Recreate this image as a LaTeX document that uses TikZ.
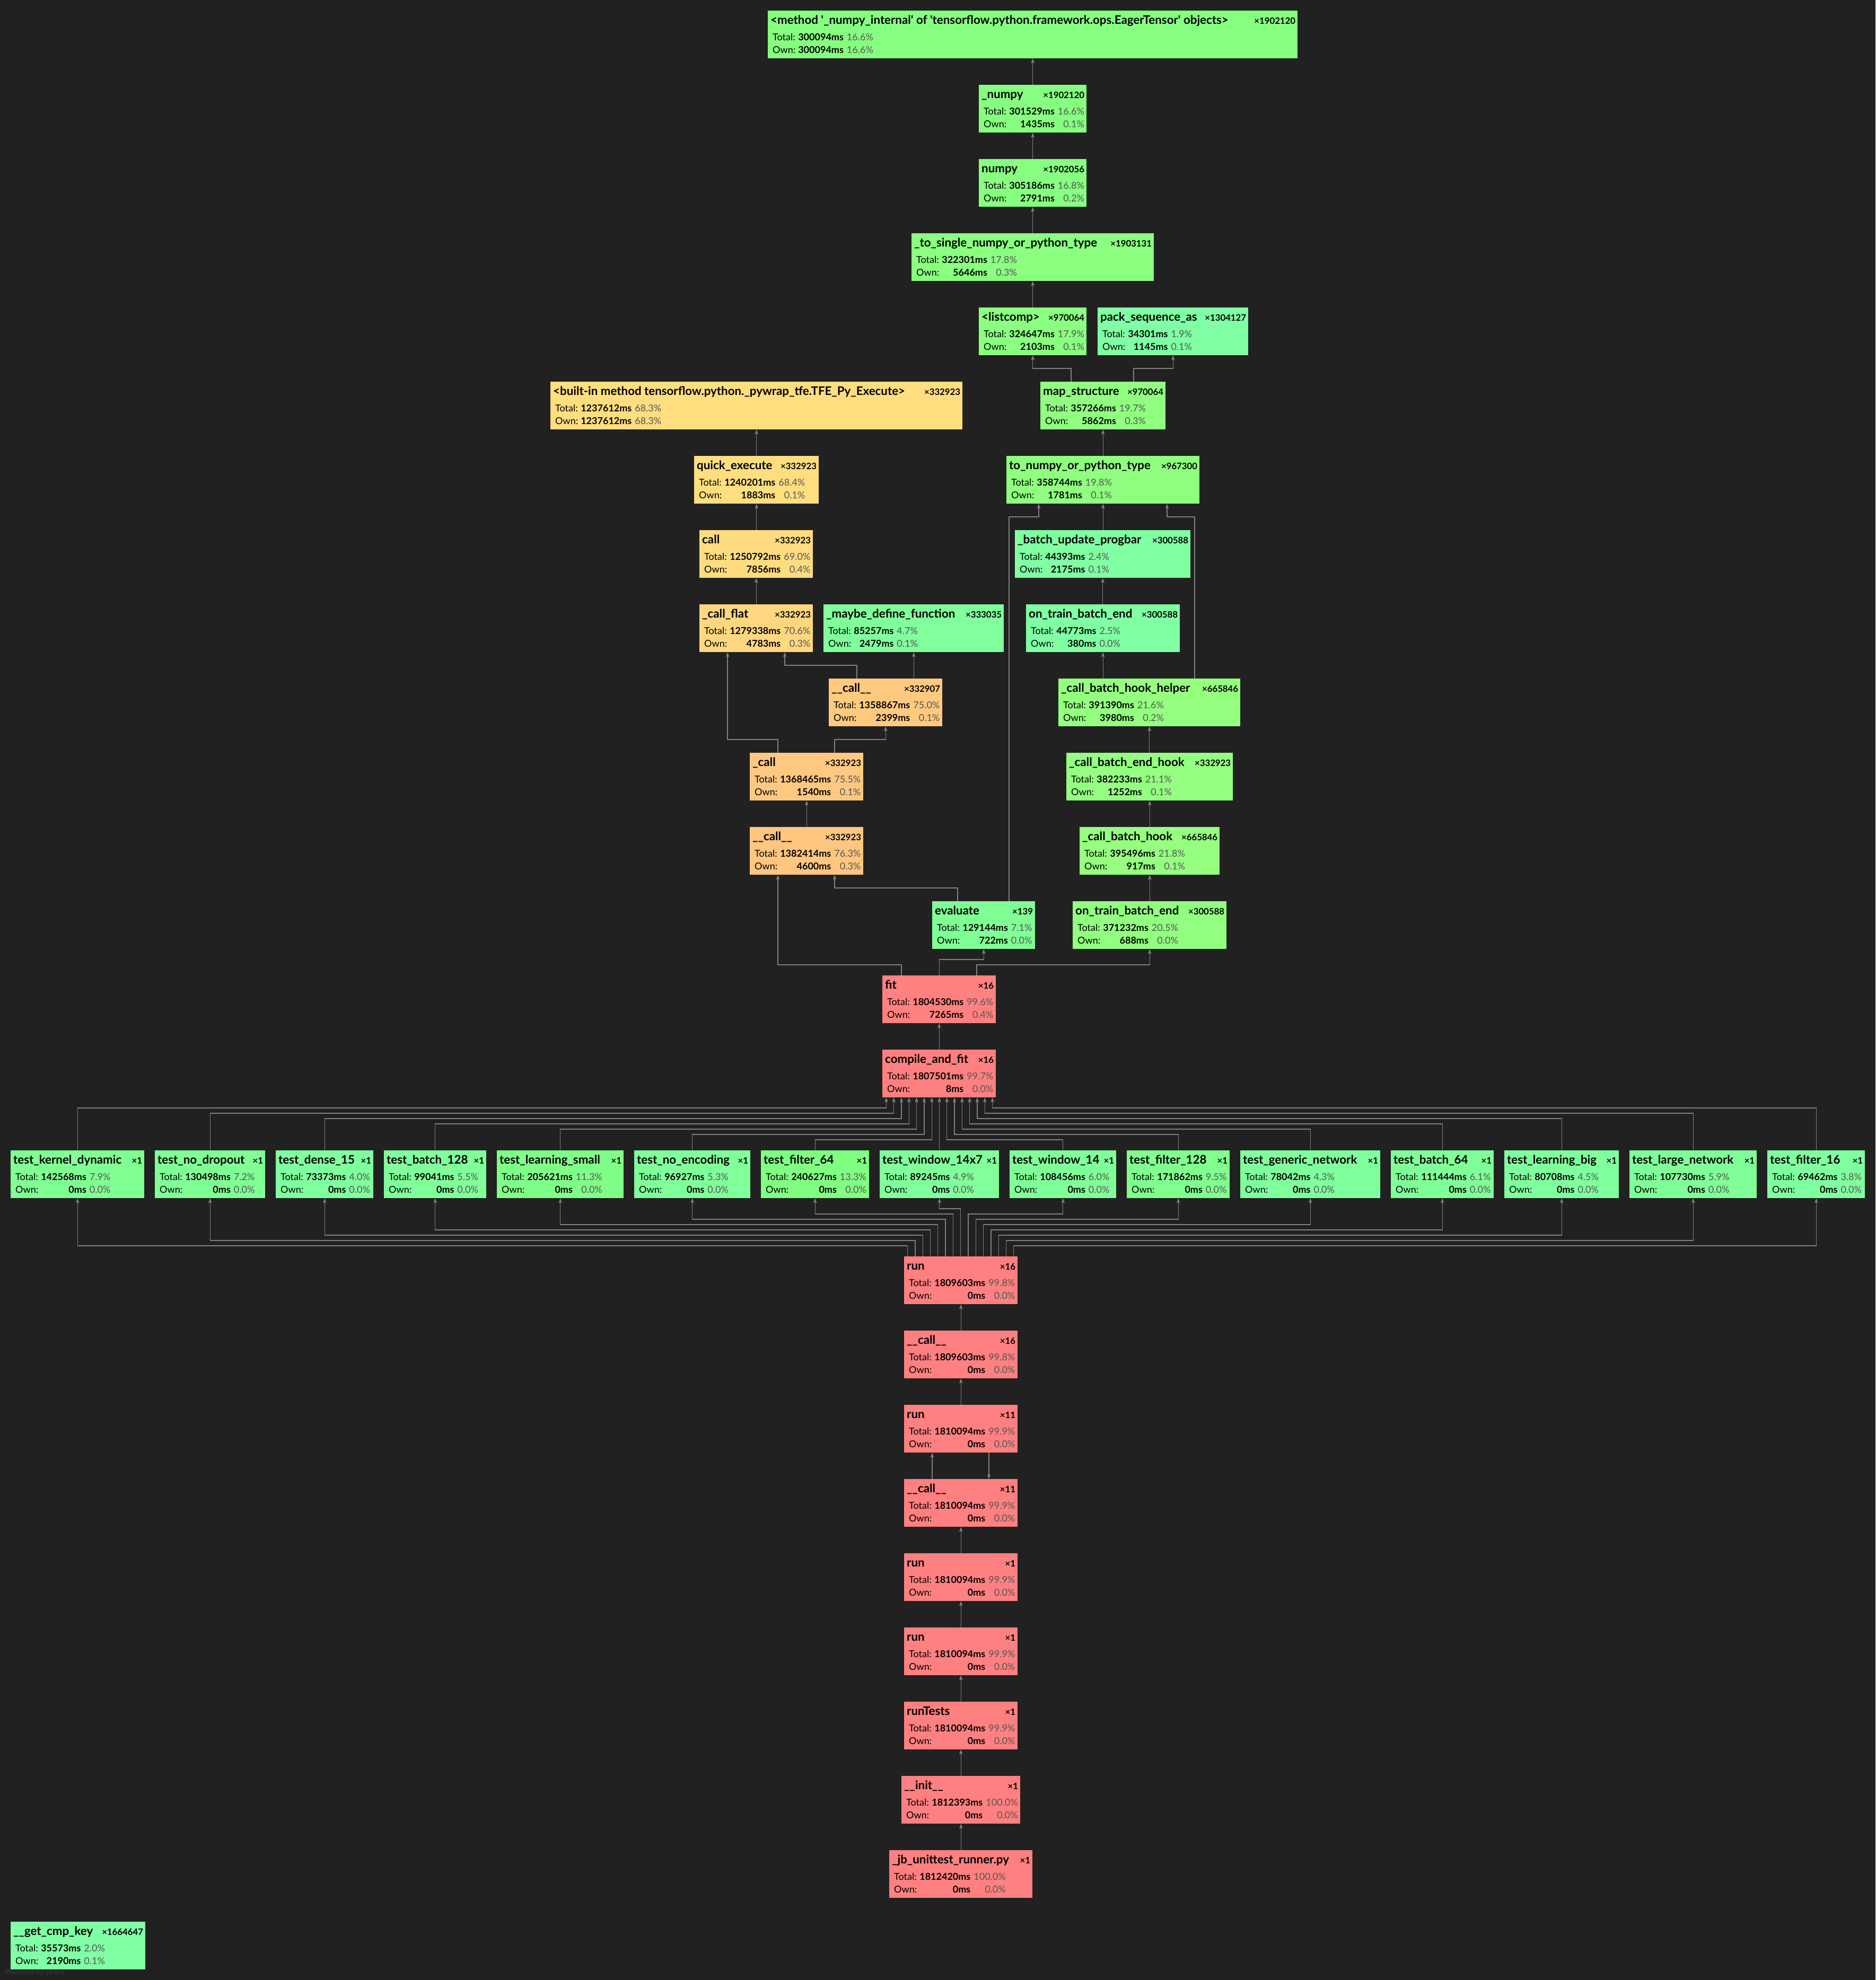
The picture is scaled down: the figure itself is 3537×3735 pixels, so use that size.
\documentclass[tikz,border=0pt]{standalone}
\usepackage{fontspec}
\setmainfont{Lato}
\usepackage{tikz}
\usetikzlibrary{arrows.meta}

\definecolor{bg}{HTML}{212121}
\definecolor{edgegray}{HTML}{808080}
\definecolor{pctgray}{HTML}{555555}
\definecolor{yfgray}{HTML}{3A3A3A}

\newcommand\sq{\textquotesingle}
\newcommand\pct[1]{\textcolor{pctgray}{#1\%}}

% one call box: name, top left, width, title, count, total, total pct, own, own pct
\newcommand\fnode[9]{%
  \node[fnbox={#3}{#7}] (#1) at (#2) {};
  \node[fntitle] (#1t) at ([xshift=5pt,yshift=-25pt]#1.north west) {#4};
  \node[fncount] (#1c) at ([xshift=-4pt,yshift=-25pt]#1.north east) {×#5};
  \node[fnstats] (#1s) at ([xshift=9pt,yshift=-56pt]#1.north west)
    {\begin{tabular}[t]{@{}l@{\hspace{5pt}}r@{\hspace{6pt}}r@{}}Total: & \textbf{#6} & \pct{#7}\\Own: & \textbf{#8} & \pct{#9}\end{tabular}};
}

\begin{document}
\begin{tikzpicture}[x=1pt,y=-1pt,
  heat/.code={%
    \pgfmathsetmacro\fnhue{140-1.4*#1}%
    \pgfmathsetmacro\fnr{0.5+0.5*max(0,min(1,(120-\fnhue)/60))}%
    \pgfmathsetmacro\fng{0.5+0.5*max(0,min(1,\fnhue/60))}%
    \pgfmathsetmacro\fnb{0.5+0.5*max(0,min(1,(\fnhue-120)/60))}%
    \definecolor{fnfill}{rgb}{\fnr,\fng,\fnb}\pgfkeysalso{fill=fnfill}},
  fnbox/.style 2 args={rectangle,inner sep=0,anchor=north west,minimum width=#1,minimum height=90,heat=#2},
  fntitle/.style={anchor=base west,inner sep=0,font=\fontsize{22.3}{26}\selectfont\bfseries},
  fncount/.style={anchor=base east,inner sep=0,font=\fontsize{16.8}{20}\selectfont\bfseries},
  fnstats/.style={anchor=base west,inner sep=0,font=\fontsize{18}{24}\selectfont},
  edge/.style={draw=edgegray,line width=1.3pt,-{Stealth[length=9pt,width=6.5pt,inset=2pt]}}]

% background
\useasboundingbox (0,0) rectangle (3537,3735);
\fill[bg] (0,0) rectangle (3537,3735);

% numpy chain
\fnode{meth}{1448,20}{999}{<method \sq\_numpy\_internal\sq{} of \sq tensorflow.python.framework.ops.EagerTensor\sq{} objects>}{1902120}{300094ms}{16.6}{300094ms}{16.6}
\fnode{npyA}{1846,160}{203}{\_numpy}{1902120}{301529ms}{16.6}{1435ms}{0.1}
\fnode{npyB}{1846,300}{203}{numpy}{1902056}{305186ms}{16.8}{2791ms}{0.2}
\fnode{tosingle}{1719,440}{457}{\_to\_single\_numpy\_or\_python\_type}{1903131}{322301ms}{17.8}{5646ms}{0.3}
\fnode{listcomp}{1846,580}{203}{<listcomp>}{970064}{324647ms}{17.9}{2103ms}{0.1}
\fnode{packseq}{2070,580}{284}{pack\_sequence\_as}{1304127}{34301ms}{1.9}{1145ms}{0.1}
\fnode{mapstruct}{1962,720}{236}{map\_structure}{970064}{357266ms}{19.7}{5862ms}{0.3}
\fnode{tonumpy}{1898,860}{364}{to\_numpy\_or\_python\_type}{967300}{358744ms}{19.8}{1781ms}{0.1}

% execute chain
\fnode{builtin}{1038,720}{777}{<built-in method tensorflow.python.\_pywrap\_tfe.TFE\_Py\_Execute>}{332923}{1237612ms}{68.3}{1237612ms}{68.3}
\fnode{quickexec}{1309,860}{235}{quick\_execute}{332923}{1240201ms}{68.4}{1883ms}{0.1}
\fnode{callA}{1319,1000}{214}{call}{332923}{1250792ms}{69.0}{7856ms}{0.4}
\fnode{callflat}{1319,1140}{214}{\_call\_flat}{332923}{1279338ms}{70.6}{4783ms}{0.3}
\fnode{maybedef}{1553,1140}{340}{\_maybe\_define\_function}{333035}{85257ms}{4.7}{2479ms}{0.1}
\fnode{dcallA}{1563,1280}{214}{\_\_call\_\_}{332907}{1358867ms}{75.0}{2399ms}{0.1}
\fnode{ucall}{1414,1420}{214}{\_call}{332923}{1368465ms}{75.5}{1540ms}{0.1}
\fnode{dcallB}{1414,1560}{214}{\_\_call\_\_}{332923}{1382414ms}{76.3}{4600ms}{0.3}

% batch hooks
\fnode{progbar}{1914,1000}{331}{\_batch\_update\_progbar}{300588}{44393ms}{2.4}{2175ms}{0.1}
\fnode{otbeA}{1935,1140}{290}{on\_train\_batch\_end}{300588}{44773ms}{2.5}{380ms}{0.0}
\fnode{hookhelper}{1996,1280}{343}{\_call\_batch\_hook\_helper}{665846}{391390ms}{21.6}{3980ms}{0.2}
\fnode{endhook}{2011,1420}{314}{\_call\_batch\_end\_hook}{332923}{382233ms}{21.1}{1252ms}{0.1}
\fnode{batchhook}{2036,1560}{264}{\_call\_batch\_hook}{665846}{395496ms}{21.8}{917ms}{0.1}
\fnode{evaluate}{1758,1700}{194}{evaluate}{139}{129144ms}{7.1}{722ms}{0.0}
\fnode{otbeB}{2023,1700}{290}{on\_train\_batch\_end}{300588}{371232ms}{20.5}{688ms}{0.0}
\fnode{fit}{1664,1840}{214}{fit}{16}{1804530ms}{99.6}{7265ms}{0.4}
\fnode{compfit}{1664,1980}{214}{compile\_and\_fit}{16}{1807501ms}{99.7}{8ms}{0.0}

% test cases
\fnode{tkernel}{20,2170}{252}{test\_kernel\_dynamic}{1}{142568ms}{7.9}{0ms}{0.0}
\fnode{tnodrop}{292,2170}{208}{test\_no\_dropout}{1}{130498ms}{7.2}{0ms}{0.0}
\fnode{tdense}{520,2170}{184}{test\_dense\_15}{1}{73373ms}{4.0}{0ms}{0.0}
\fnode{tbatchA}{724,2170}{193}{test\_batch\_128}{1}{99041ms}{5.5}{0ms}{0.0}
\fnode{tlearnS}{937,2170}{239}{test\_learning\_small}{1}{205621ms}{11.3}{0ms}{0.0}
\fnode{tnoenc}{1196,2170}{219}{test\_no\_encoding}{1}{96927ms}{5.3}{0ms}{0.0}
\fnode{tfiltA}{1435,2170}{204}{test\_filter\_64}{1}{240627ms}{13.3}{0ms}{0.0}
\fnode{twinA}{1659,2170}{225}{test\_window\_14x7}{1}{89245ms}{4.9}{0ms}{0.0}
\fnode{twinB}{1904,2170}{201}{test\_window\_14}{1}{108456ms}{6.0}{0ms}{0.0}
\fnode{tfiltB}{2125,2170}{194}{test\_filter\_128}{1}{171862ms}{9.5}{0ms}{0.0}
\fnode{tgeneric}{2339,2170}{264}{test\_generic\_network}{1}{78042ms}{4.3}{0ms}{0.0}
\fnode{tbatchB}{2623,2170}{194}{test\_batch\_64}{1}{111444ms}{6.1}{0ms}{0.0}
\fnode{tlearnB}{2837,2170}{216}{test\_learning\_big}{1}{80708ms}{4.5}{0ms}{0.0}
\fnode{tlarge}{3073,2170}{240}{test\_large\_network}{1}{107730ms}{5.9}{0ms}{0.0}
\fnode{tfiltC}{3333,2170}{184}{test\_filter\_16}{1}{69462ms}{3.8}{0ms}{0.0}

% runner chain
\fnode{runA}{1705,2370}{214}{run}{16}{1809603ms}{99.8}{0ms}{0.0}
\fnode{dcallC}{1705,2510}{214}{\_\_call\_\_}{16}{1809603ms}{99.8}{0ms}{0.0}
\fnode{runB}{1705,2650}{214}{run}{11}{1810094ms}{99.9}{0ms}{0.0}
\fnode{dcallD}{1705,2790}{214}{\_\_call\_\_}{11}{1810094ms}{99.9}{0ms}{0.0}
\fnode{runC}{1705,2930}{214}{run}{1}{1810094ms}{99.9}{0ms}{0.0}
\fnode{runD}{1705,3070}{214}{run}{1}{1810094ms}{99.9}{0ms}{0.0}
\fnode{runtests}{1705,3210}{214}{runTests}{1}{1810094ms}{99.9}{0ms}{0.0}
\fnode{init}{1700,3350}{224}{\_\_init\_\_}{1}{1812393ms}{100.0}{0ms}{0.0}
\fnode{jbrunner}{1677,3490}{270}{\_jb\_unittest\_runner.py}{1}{1812420ms}{100.0}{0ms}{0.0}

% loose box
\node[anchor=base west,inner sep=0,text=yfgray,font=\fontsize{14}{16}\selectfont] (yfiles) at (10,3724) {Powered by yFiles};
\fnode{getcmp}{20,3625}{254}{\_\_get\_cmp\_key}{1664647}{35573ms}{2.0}{2190ms}{0.1}

% edges of the numpy chain
\draw[edge] (npyA.north) -- (meth.south);
\draw[edge] (npyB.north) -- (npyA.south);
\draw[edge] (tosingle.north) -- (npyB.south);
\draw[edge] (listcomp.north) -- (tosingle.south);
\draw[edge] (mapstruct.north -| 2020,0) |- (listcomp.south |- 0,695) -- (listcomp.south);
\draw[edge] (mapstruct.north -| 2138,0) |- (packseq.south |- 0,695) -- (packseq.south);
\draw[edge] (tonumpy.north -| mapstruct.south) -- (mapstruct.south);
\draw[edge] (progbar.north -| tonumpy.south) -- (tonumpy.south);
\draw[edge] (otbeA.north -| progbar.south) -- (progbar.south);
\draw[edge] (hookhelper.north -| otbeA.south) -- (otbeA.south);
\draw[edge] (evaluate.north -| 1903,0) |- (1959,975) -- (tonumpy.south -| 1959,0);
\draw[edge] (hookhelper.north -| 2253,0) |- (2201,975) -- (tonumpy.south -| 2201,0);
\draw[edge] (endhook.north -| hookhelper.south) -- (hookhelper.south);
\draw[edge] (batchhook.north -| endhook.south) -- (endhook.south);
\draw[edge] (otbeB.north -| batchhook.south) -- (batchhook.south);

% edges of the execute chain
\draw[edge] (quickexec.north -| builtin.south) -- (builtin.south);
\draw[edge] (callA.north -| quickexec.south) -- (quickexec.south);
\draw[edge] (callflat.north -| callA.south) -- (callA.south);
\draw[edge] (dcallA.north -| 1616,0) |- (1480,1255) -- (callflat.south -| 1480,0);
\draw[edge] (dcallA.north -| maybedef.south) -- (maybedef.south);
\draw[edge] (ucall.north -| 1467,0) |- (1372,1395) -- (callflat.south -| 1372,0);
\draw[edge] (ucall.north -| 1574,0) |- (dcallA.south |- 0,1395) -- (dcallA.south);
\draw[edge] (dcallB.north -| ucall.south) -- (ucall.south);
\draw[edge] (fit.north -| 1700,0) |- (1467,1820) -- (dcallB.south -| 1467,0);
\draw[edge] (evaluate.north -| 1806,0) |- (1574,1675) -- (dcallB.south -| 1574,0);
\draw[edge] (fit.north) |- (evaluate.south |- 0,1810) -- (evaluate.south);
\draw[edge] (fit.north -| 1842,0) |- (otbeB.south |- 0,1820) -- (otbeB.south);
\draw[edge] (compfit.north) -- (fit.south);

% test cases fan in and out
\foreach \tst [count=\i from 0] in {tkernel,tnodrop,tdense,tbatchA,tlearnS,tnoenc,tfiltA,twinA,twinB,tfiltB,tgeneric,tbatchB,tlearnB,tlarge,tfiltC} {
  \pgfmathsetmacro\us{1771.5+(\i-7)*14.3}
  \pgfmathsetmacro\rs{1811.7+(\i-7)*14.3}
  \pgfmathsetmacro\up{2090+10*min(\i,14-\i)}
  \pgfmathsetmacro\lo{2280+10*abs(\i-7)}
  \draw[edge] (\tst.north) |- (\us,\up) -- (compfit.south -| \us,0);
  \draw[edge] (runA.north -| \rs,0) |- (\tst.south |- 0,\lo) -- (\tst.south);
}

% edges of the runner chain
\draw[edge] (dcallC.north) -- (runA.south);
\draw[edge] (runB.north) -- (dcallC.south);
\draw[edge] (dcallD.north -| 1758,0) -- (runB.south -| 1758,0);
\draw[edge] (runB.south -| 1865,0) -- (dcallD.north -| 1865,0);
\draw[edge] (runC.north) -- (dcallD.south);
\draw[edge] (runD.north) -- (runC.south);
\draw[edge] (runtests.north) -- (runD.south);
\draw[edge] (init.north) -- (runtests.south);
\draw[edge] (jbrunner.north) -- (init.south);

\end{tikzpicture}
\end{document}
